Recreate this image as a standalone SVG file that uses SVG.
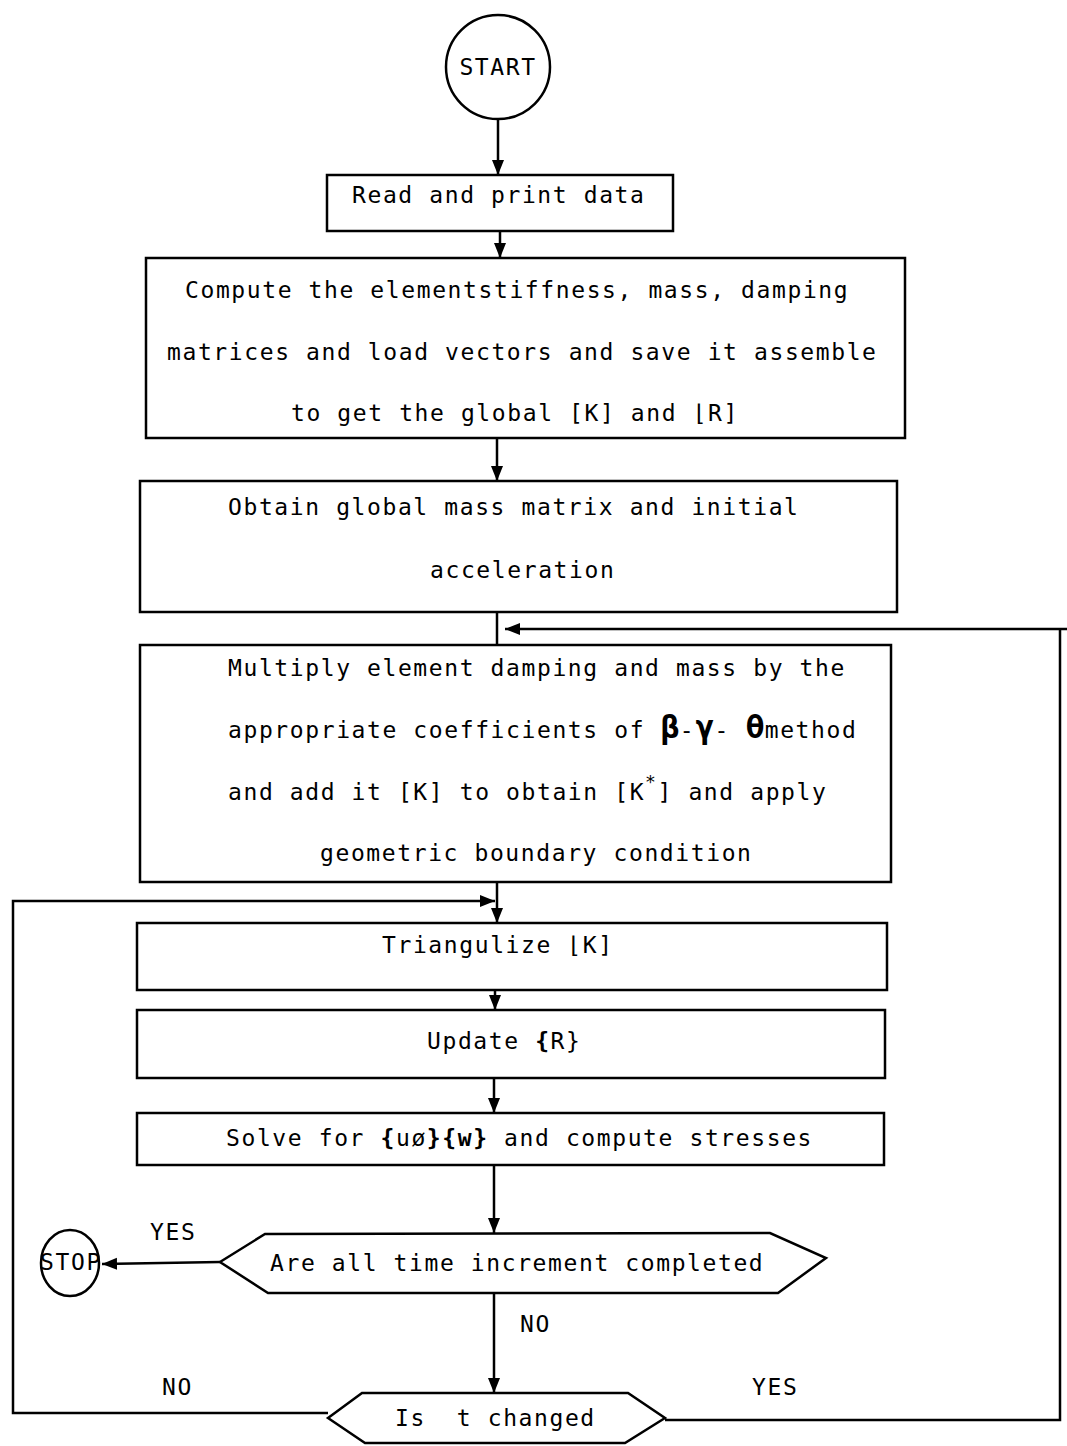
<svg xmlns="http://www.w3.org/2000/svg" width="1067" height="1446" viewBox="0 0 1067 1446">
<defs>
<style>
.box{fill:#fff;stroke:#000;stroke-width:2.5}
.ln{fill:none;stroke:#000;stroke-width:2.5}
.t{font-family:"DejaVu Sans Mono","Liberation Mono",monospace;font-size:23px;letter-spacing:1.6px;fill:#000;white-space:pre}
.g{font-weight:bold;font-size:32px;letter-spacing:0}
</style>
<marker id="ah" viewBox="0 0 10 10" refX="10" refY="5" markerWidth="6" markerHeight="6" orient="auto-start-reverse" markerUnits="strokeWidth">
<path d="M0,1 L10,5 L0,9 Z" fill="#000"/>
</marker>
</defs>
<rect width="1067" height="1446" fill="#fff"/>
<g id="connectors">
<line class="ln" x1="498" y1="119" x2="498" y2="175" marker-end="url(#ah)"/>
<line class="ln" x1="500" y1="231" x2="500" y2="258" marker-end="url(#ah)"/>
<line class="ln" x1="497" y1="438" x2="497" y2="481" marker-end="url(#ah)"/>
<line class="ln" x1="497" y1="612" x2="497" y2="645"/>
<polyline class="ln" points="1067,629 505,629" marker-end="url(#ah)"/>
<line class="ln" x1="497" y1="882" x2="497" y2="923" marker-end="url(#ah)"/>
<polyline class="ln" points="328,1413 13,1413 13,901 495,901" marker-end="url(#ah)"/>
<line class="ln" x1="495" y1="990" x2="495" y2="1010" marker-end="url(#ah)"/>
<line class="ln" x1="494" y1="1078" x2="494" y2="1113" marker-end="url(#ah)"/>
<line class="ln" x1="494" y1="1165" x2="494" y2="1233" marker-end="url(#ah)"/>
<line class="ln" x1="220" y1="1262" x2="102" y2="1264" marker-end="url(#ah)"/>
<line class="ln" x1="494" y1="1293" x2="494" y2="1393" marker-end="url(#ah)"/>
<polyline class="ln" points="665,1420 1060,1420 1060,629"/>
<text class="t" x="150" y="1240">YES</text>
<text class="t" x="520" y="1332">NO</text>
<text class="t" x="162" y="1395">NO</text>
<text class="t" x="752" y="1395">YES</text>
</g>
<g id="start">
<circle class="box" cx="498" cy="67" r="52"/>
<text class="t" x="498" y="75" text-anchor="middle" letter-spacing="0.5">START</text>
</g>
<g id="read">
<rect class="box" x="327" y="175" width="346" height="56"/>
<text class="t" x="352" y="203">Read and print data</text>
</g>
<g id="compute">
<rect class="box" x="146" y="258" width="759" height="180"/>
<text class="t" x="185" y="298">Compute the elementstiffness, mass, damping</text>
<text class="t" x="167" y="360">matrices and load vectors and save it assemble</text>
<text class="t" x="291" y="421">to get the global [K] and ⌊R]</text>
</g>
<g id="obtain">
<rect class="box" x="140" y="481" width="757" height="131"/>
<text class="t" x="228" y="515">Obtain global mass matrix and initial</text>
<text class="t" x="430" y="578">acceleration</text>
</g>
<g id="multiply">
<rect class="box" x="140" y="645" width="751" height="237"/>
<text class="t" x="228" y="676">Multiply element damping and mass by the</text>
<text class="t" x="228" y="738">appropriate coefficients of <tspan class="g">β</tspan>-<tspan class="g">γ</tspan>- <tspan class="g">θ</tspan>method</text>
<text class="t" x="228" y="800">and add it [K] to obtain [K<tspan dy="-12" font-size="18">*</tspan><tspan dy="12">] and apply</tspan></text>
<text class="t" x="320" y="861">geometric boundary condition</text>
</g>
<g id="triangulize">
<rect class="box" x="137" y="923" width="750" height="67"/>
<text class="t" x="382" y="953">Triangulize ⌊K]</text>
</g>
<g id="update">
<rect class="box" x="137" y="1010" width="748" height="68"/>
<text class="t" x="427" y="1049">Update <tspan font-weight="bold">{</tspan>R}</text>
</g>
<g id="solve">
<rect class="box" x="137" y="1113" width="747" height="52"/>
<text class="t" x="226" y="1146">Solve for <tspan font-weight="bold">{</tspan>uø<tspan font-weight="bold">}{w}</tspan> and compute stresses</text>
</g>
<g id="decision1">
<polygon class="box" points="220,1262 265,1234 770,1233 826,1258 778,1293 268,1293"/>
<text class="t" x="270" y="1271">Are all time increment completed</text>
</g>
<g id="stop">
<ellipse class="box" cx="70" cy="1263" rx="29" ry="33"/>
<text class="t" x="71" y="1270" text-anchor="middle" letter-spacing="-1.5" font-size="19">STOP</text>
</g>
<g id="decision2">
<polygon class="box" points="328,1418 362,1393 628,1393 665,1418 625,1443 365,1443"/>
<text class="t" x="395" y="1426">Is  t changed</text>
</g>
</svg>
